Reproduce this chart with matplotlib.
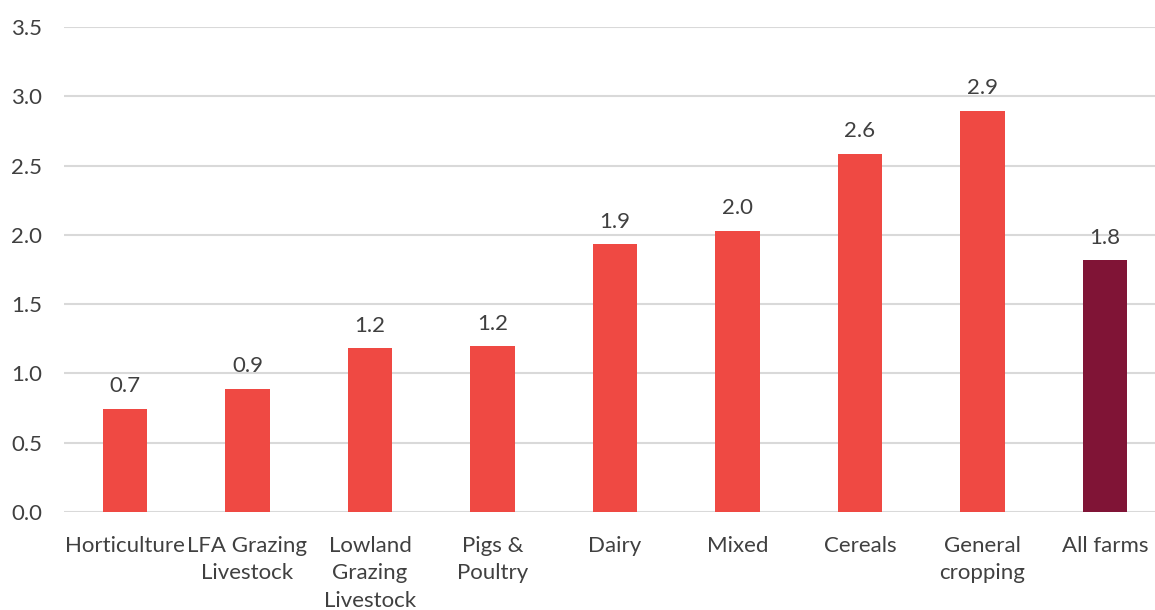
import matplotlib
matplotlib.use("Agg")
import matplotlib.pyplot as plt

categories = ["Horticulture", "LFA Grazing\nLivestock", "Lowland\nGrazing\nLivestock",
              "Pigs &\nPoultry", "Dairy", "Mixed", "Cereals", "General\ncropping", "All farms"]
values = [0.744, 0.889, 1.183, 1.195, 1.932, 2.029, 2.587, 2.895, 1.815]
highlight = ["All farms"]
y_ticks = [0.0, 0.5, 1.0, 1.5, 2.0, 2.5, 3.0, 3.5]

RED = "#EF4943"
DARK = "#801436"
TEXT = "#404040"
GRID = "#D9D9D9"
FS = 16

plt.rcParams["font.family"] = ["Lato", "DejaVu Sans"]

W, H = 1155, 610
fig = plt.figure(figsize=(W / 100, H / 100), dpi=100)
left, right, bottom, top = 63.7, 1155, 512, 27
ax = fig.add_axes([left / W, (H - bottom) / H, (right - left) / W, (bottom - top) / H])

step = 122.5
x = list(range(len(categories)))
colors = [DARK if c in highlight else RED for c in categories]
ax.bar(x, values, width=0.36, color=colors, zorder=3)

for xi, v in zip(x, values):
    ax.annotate(f"{v:.1f}", (xi, v), xytext=(0, 9), textcoords="offset points",
                ha="center", va="bottom", fontsize=FS, color=TEXT)

ax.set_xlim(-0.5, -0.5 + (right - left) / step)
ax.set_ylim(0, 3.5)
ax.set_yticks(y_ticks)
ax.set_yticklabels([f"{t:.1f}" for t in y_ticks])
ax.set_xticks(x)
ax.set_xticklabels(categories, linespacing=1.48)
ax.tick_params(axis="both", length=0, labelsize=FS, labelcolor=TEXT)
ax.tick_params(axis="x", pad=17)
ax.tick_params(axis="y", pad=15.5)
ax.grid(axis="y", color=GRID, linewidth=1.5, zorder=0)
for s in ax.spines.values():
    s.set_visible(False)

fig.savefig("out.png", dpi=100)
